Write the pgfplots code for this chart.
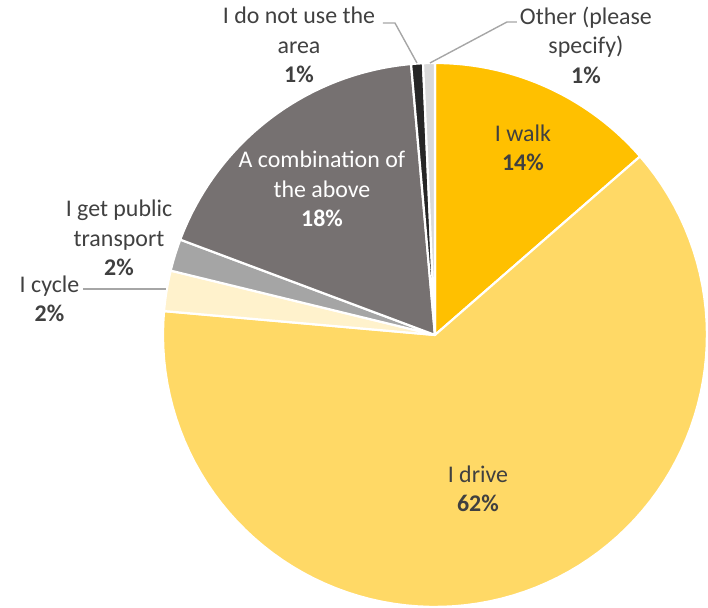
\documentclass[border=0pt]{standalone}
\usepackage{pgfplots}
\pgfplotsset{compat=1.18}
\usepackage{fontspec}
\setmainfont{Carlito}
\definecolor{cwalk}{HTML}{FFC000}
\definecolor{cdrive}{HTML}{FFD966}
\definecolor{ccycle}{HTML}{FFF2CC}
\definecolor{cpublic}{HTML}{A5A5A5}
\definecolor{ccomb}{HTML}{767171}
\definecolor{cnotuse}{HTML}{262626}
\definecolor{cother}{HTML}{D9D9D9}
\definecolor{ctext}{HTML}{404040}
\definecolor{cleader}{HTML}{A6A6A6}
% slice values (percent), clockwise from 12 o'clock
\def\vWalk{13.6}
\def\vDrive{62.8}
\def\vCycle{2.4}
\def\vPublic{1.9}
\def\vComb{17.9}
\def\vNotuse{0.7}
\def\vOther{0.7}
\newcommand{\slice}[3]{%
  \addplot[fill=#3, draw=white, line width=2.2pt, line join=round, domain=#1:#2, samples=90, variable=\t]
    ({272*cos(\t)},{272*sin(\t)}) -- (axis cs:0,0) -- cycle;}
\begin{document}
\begin{tikzpicture}
\pgfmathsetmacro\aA{90}
\pgfmathsetmacro\aB{\aA-3.6*\vWalk}
\pgfmathsetmacro\aC{\aB-3.6*\vDrive}
\pgfmathsetmacro\aD{\aC-3.6*\vCycle}
\pgfmathsetmacro\aE{\aD-3.6*\vPublic}
\pgfmathsetmacro\aF{\aE-3.6*\vComb}
\pgfmathsetmacro\aG{\aF-3.6*\vNotuse}
\pgfmathsetmacro\aH{\aG-3.6*\vOther}
\begin{axis}[hide axis, scale only axis, width=708bp, height=607bp,
  xmin=-435, xmax=273, ymin=-272, ymax=335, clip=false]
\path (rel axis cs:0,0) rectangle (rel axis cs:1,1);
\slice{\aA}{\aB}{cwalk}
\slice{\aB}{\aC}{cdrive}
\slice{\aC}{\aD}{ccycle}
\slice{\aD}{\aE}{cpublic}
\slice{\aE}{\aF}{ccomb}
\slice{\aF}{\aG}{cnotuse}
\slice{\aG}{\aH}{cother}
% leader lines
\addplot[cleader, line width=1.4pt] coordinates {(-52,312) (-40,312) (-18,272)};
\addplot[cleader, line width=1.4pt] coordinates {(82,313) (72,313) (-5,272)};
\addplot[cleader, line width=1.4pt] coordinates {(-352,46) (-269,46)};
% labels
\begin{scope}[every node/.style={font=\fontsize{24}{29.5}\selectfont, align=center, text=ctext, inner sep=0pt}]
\node at (axis cs:88,187) {I walk\\\textbf{14\%}};
\node at (axis cs:43,-154) {I drive\\\textbf{62\%}};
\node[text=white] at (axis cs:-113,146) {A combination of\\the above\\\textbf{18\%}};
\node at (axis cs:-316,97) {I get public\\transport\\\textbf{2\%}};
\node at (axis cs:-385.5,36) {I cycle\\\textbf{2\%}};
\node at (axis cs:-136,290) {I do not use the\\area\\\textbf{1\%}};
\node at (axis cs:151,290) {Other (please\\specify)\\\textbf{1\%}};
\end{scope}
\end{axis}
\end{tikzpicture}
\end{document}
